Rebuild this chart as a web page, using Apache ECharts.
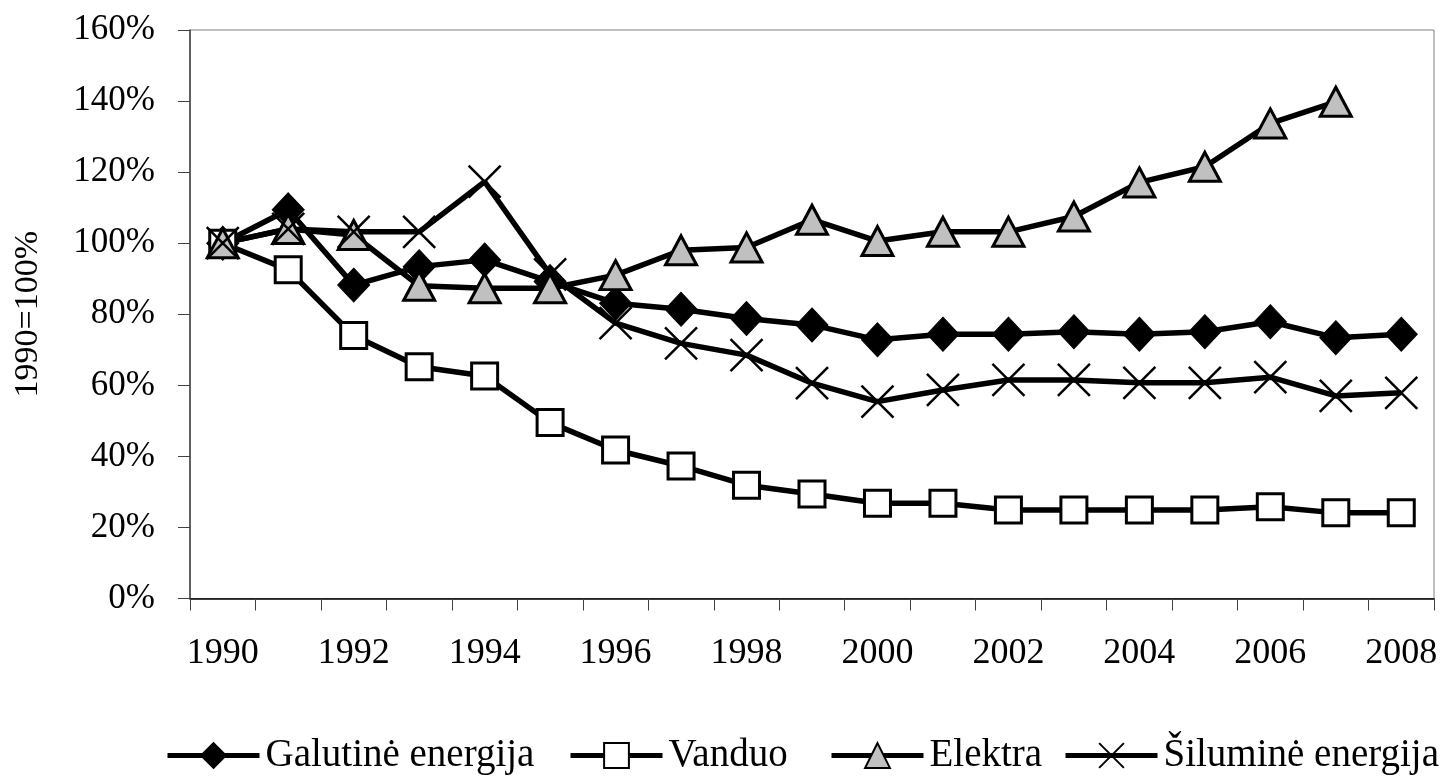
<!DOCTYPE html>
<html>
<head>
<meta charset="utf-8">
<script src="https://cdn.jsdelivr.net/npm/echarts@6/dist/echarts.min.js"></script>
<style>
html,body{margin:0;padding:0;background:#fff;}
#chart{width:1444px;height:782px;}
</style>
</head>
<body>
<div id="chart"></div>
<script>
const years = ['1990','1991','1992','1993','1994','1995','1996','1997','1998','1999','2000','2001','2002','2003','2004','2005','2006','2007','2008'];
const galutine = [100, 109.4, 88.2, 93.4, 95.3, 89.2, 83.1, 81.4, 78.8, 77.0, 72.8, 74.4, 74.4, 75.1, 74.4, 75.1, 77.9, 73.4, 74.4];
const vanduo = [100, 92.5, 74.0, 65.2, 62.6, 49.5, 41.8, 37.3, 31.9, 29.4, 26.8, 26.8, 24.9, 24.9, 24.9, 24.9, 25.8, 24.1, 24.1];
const elektra = [100, 104.0, 102.3, 88.0, 87.3, 87.3, 91.0, 98.0, 98.8, 106.6, 100.6, 103.2, 103.2, 107.5, 117.1, 121.5, 133.7, 139.8, null];
const silumine = [100, 104.0, 103.2, 103.2, 117.3, 91.2, 77.5, 71.8, 68.5, 60.6, 55.4, 58.7, 61.5, 61.5, 60.7, 60.7, 62.3, 57.0, 57.9];
const seriesNames = ['Galutinė energija', 'Vanduo', 'Elektra', 'Šiluminė energija'];
const legendLefts = [160, 563, 824, 1058];

const FONT = 'Liberation Serif, Times New Roman, serif';
const chart = echarts.init(document.getElementById('chart'), null, {renderer: 'canvas'});
const lineStyle = {color: '#000', width: 5.5};
chart.setOption({
  animation: false,
  backgroundColor: '#fff',
  grid: {left: 190, right: 10, top: 30, bottom: 183.5, show: true, borderColor: '#808080', borderWidth: 1, outerBoundsMode: 'none', containLabel: false},
  legend: seriesNames.map((n, i) => ({
    left: legendLefts[i], top: 731,
    itemWidth: 92, itemHeight: 31, itemGap: 0,
    lineStyle: {width: 5, color: '#000'},
    textStyle: {fontFamily: FONT, fontSize: 39, color: '#000', padding: [0, 0, 0, 1]},
    data: [n]
  })),
  xAxis: {
    type: 'category',
    data: years,
    boundaryGap: true,
    axisLine: {lineStyle: {color: '#000', width: 1.5}},
    axisTick: {show: true, interval: 0, length: 12, lineStyle: {color: '#404040', width: 1}},
    axisLabel: {interval: 1, margin: 37, fontFamily: FONT, fontSize: 36, color: '#000'},
    splitLine: {show: false}
  },
  yAxis: {
    type: 'value',
    min: 0, max: 160, interval: 20,
    name: '1990=100%',
    nameLocation: 'middle',
    nameRotate: 90,
    nameGap: 145,
    nameTextStyle: {fontFamily: FONT, fontSize: 34, color: '#000'},
    axisLine: {show: true, lineStyle: {color: '#404040', width: 1.5}},
    axisTick: {show: true, length: 12, lineStyle: {color: '#404040', width: 1}},
    axisLabel: {formatter: '{value}%', margin: 35, fontFamily: FONT, fontSize: 35, color: '#000'},
    splitLine: {show: false}
  },
  series: [
    {
      name: seriesNames[0], type: 'line', data: galutine,
      symbol: 'diamond', symbolSize: [32, 34],
      lineStyle: lineStyle,
      itemStyle: {color: '#000', borderColor: '#000', borderWidth: 1}
    },
    {
      name: seriesNames[1], type: 'line', data: vanduo,
      symbol: 'rect', symbolSize: 26,
      lineStyle: lineStyle,
      itemStyle: {color: '#fff', borderColor: '#000', borderWidth: 3}
    },
    {
      name: seriesNames[2], type: 'line', data: elektra,
      symbol: 'triangle', symbolSize: [31, 29],
      lineStyle: lineStyle,
      itemStyle: {color: '#c0c0c0', borderColor: '#000', borderWidth: 3}
    },
    {
      name: seriesNames[3], type: 'line', data: silumine,
      symbol: 'path://M0,0L10,10M10,0L0,10', symbolSize: 32,
      lineStyle: lineStyle,
      itemStyle: {color: '#000', borderColor: '#000', borderWidth: 2.5}
    }
  ]
});
</script>
</body>
</html>
